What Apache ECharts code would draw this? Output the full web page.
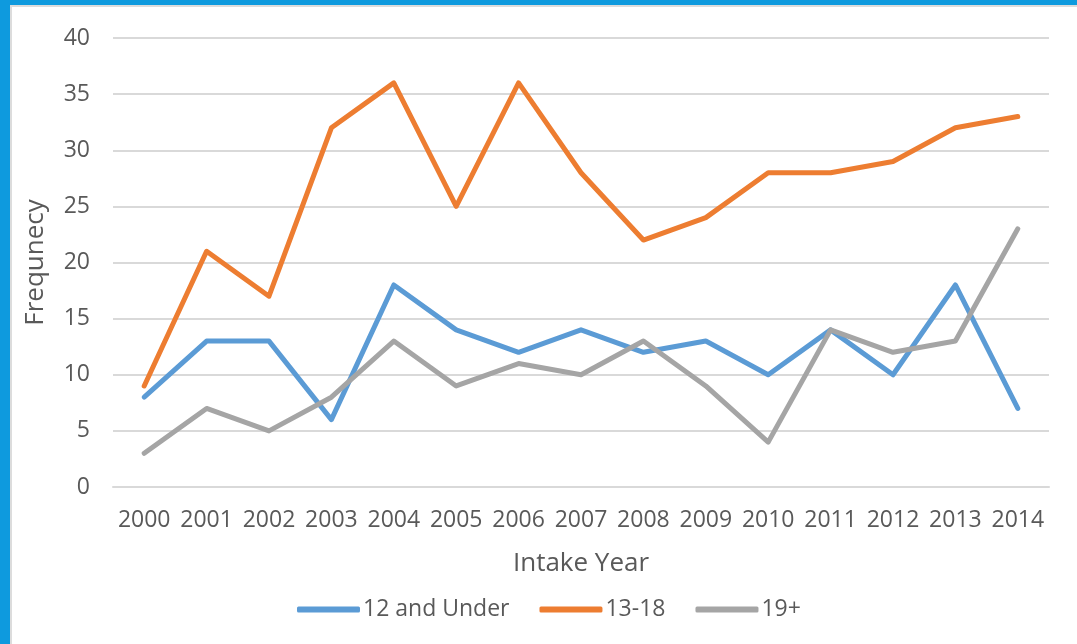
<!DOCTYPE html>
<html>
<head>
<meta charset="utf-8">
<title>Intake frequency by age group</title>
<script src="https://cdn.jsdelivr.net/npm/echarts@6/dist/echarts.min.js"></script>
<style>
  html, body { margin: 0; padding: 0; background: #ffffff; }
  #chart { position: absolute; left: 0; top: 0; width: 1077px; height: 644px; }
  .edge { position: absolute; pointer-events: none; }
  #edgeLeft { left: 0; top: 0; width: 10px; height: 644px; background: #0e9ade; }
  #edgeTop { left: 0; top: 0; width: 1077px; height: 5px; background: #0e9ade; }
  #shadeLeft { left: 10px; top: 5px; width: 2px; height: 639px; background: #dcdcdc; }
  #shadeTop { left: 10px; top: 5px; width: 1067px; height: 2px; background: #dcdcdc; }
</style>
</head>
<body>
<div id="chart"></div>
<div class="edge" id="shadeLeft"></div>
<div class="edge" id="shadeTop"></div>
<div class="edge" id="edgeLeft"></div>
<div class="edge" id="edgeTop"></div>
<script>
// Intake years (category axis)
const years = ['2000', '2001', '2002', '2003', '2004', '2005', '2006', '2007',
               '2008', '2009', '2010', '2011', '2012', '2013', '2014'];

// Frequency per age group
const under12 = [8, 13, 13, 6, 18, 14, 12, 14, 12, 13, 10, 14, 10, 18, 7];
const age13to18 = [9, 21, 17, 32, 36, 25, 36, 28, 22, 24, 28, 28, 29, 32, 33];
const age19plus = [3, 7, 5, 8, 13, 9, 11, 10, 13, 9, 4, 14, 12, 13, 23];

const seriesNames = ['12 and Under', '13-18', '19+'];
const seriesColors = ['#5b9bd5', '#ed7d31', '#a5a5a5'];

const textColor = '#595959';
const fontFamily = '"Open Sans", "Liberation Sans", sans-serif';

function lineSeries(name, data, color) {
  return {
    name: name,
    type: 'line',
    data: data,
    symbol: 'none',
    smooth: false,
    lineStyle: { color: color, width: 5, cap: 'round', join: 'round' },
    itemStyle: { color: color },
    emphasis: { disabled: true }
  };
}

const chart = echarts.init(document.getElementById('chart'), null, { renderer: 'canvas' });

chart.setOption({
  backgroundColor: 'transparent',
  animation: false,
  textStyle: { fontFamily: fontFamily, color: textColor },
  grid: { left: 113, right: 28, top: 38, bottom: 157, containLabel: false },
  legend: {
    data: seriesNames.map(n => ({ name: n, icon: 'roundRect' })),
    left: 292,
    top: 593,
    itemWidth: 63,
    itemHeight: 6,
    itemGap: 30,
    textStyle: { fontFamily: fontFamily, fontSize: 23, color: textColor, padding: [0, 0, 0, -2] }
  },
  xAxis: {
    type: 'category',
    data: years,
    boundaryGap: true,
    name: 'Intake Year',
    nameLocation: 'middle',
    nameGap: 64,
    nameTextStyle: { fontFamily: fontFamily, fontSize: 26, color: textColor, verticalAlign: 'top' },
    axisLine: { show: true, lineStyle: { color: '#d9d9d9', width: 2 } },
    axisTick: { show: false },
    axisLabel: { fontFamily: fontFamily, fontSize: 23, color: textColor, margin: 22, interval: 0 }
  },
  yAxis: {
    type: 'value',
    min: 0,
    max: 40,
    interval: 5,
    name: 'Frequnecy',
    nameLocation: 'middle',
    nameGap: 64,
    nameRotate: 90,
    nameTextStyle: { fontFamily: fontFamily, fontSize: 26, color: textColor },
    axisLine: { show: false },
    axisTick: { show: false },
    axisLabel: { fontFamily: fontFamily, fontSize: 23, color: textColor, margin: 23 },
    splitLine: { show: true, lineStyle: { color: '#d9d9d9', width: 2 } }
  },
  series: [
    lineSeries(seriesNames[0], under12, seriesColors[0]),
    lineSeries(seriesNames[1], age13to18, seriesColors[1]),
    lineSeries(seriesNames[2], age19plus, seriesColors[2])
  ]
});
</script>
</body>
</html>
